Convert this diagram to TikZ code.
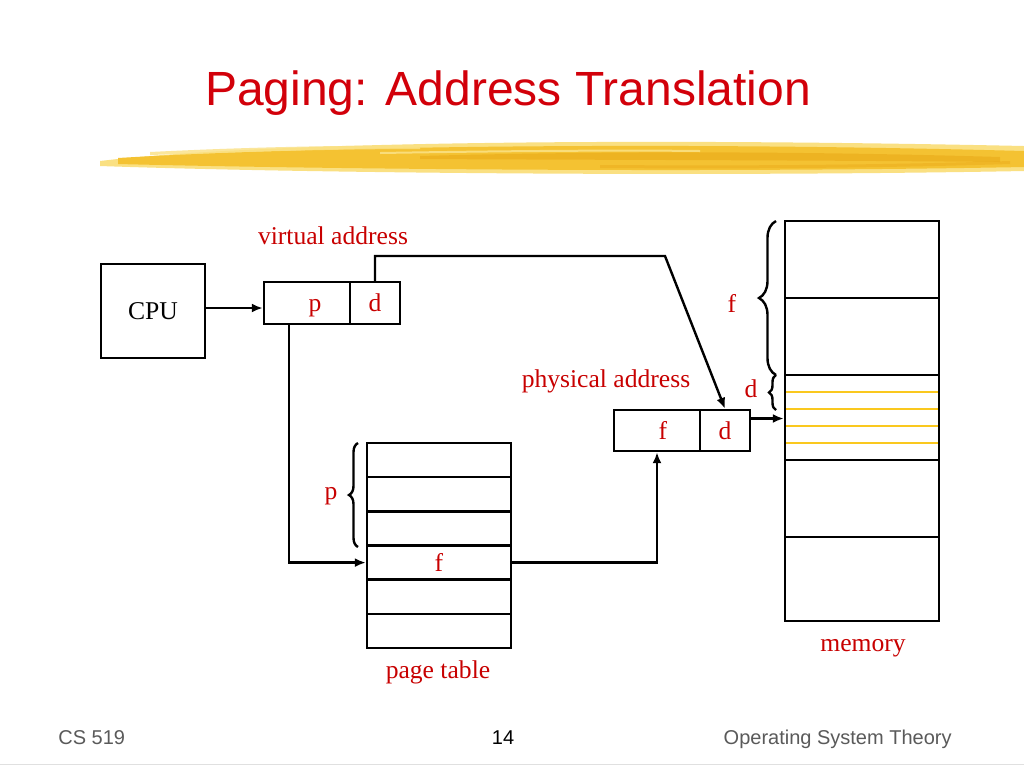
\documentclass[tikz,border=0pt]{standalone}
\usepackage{fontspec}
\setmainfont{Liberation Serif}
\setsansfont{Liberation Sans}
\usetikzlibrary{decorations.pathreplacing,arrows.meta}
\definecolor{labelred}{RGB}{200,0,0}
\definecolor{titlered}{RGB}{210,0,10}
\definecolor{brushgold}{RGB}{244,194,50}
\definecolor{brushlight}{RGB}{250,224,130}
\definecolor{brushdark}{RGB}{232,165,20}
\definecolor{memyellow}{RGB}{250,200,30}
\definecolor{footgray}{RGB}{90,90,90}

\begin{document}
\begin{tikzpicture}[x=0.5pt,y=-0.5pt,
  box/.style={draw,line width=1.2pt,inner sep=0pt,text height=8.7pt,text depth=0pt,
    font=\fontsize{12.8}{15}\selectfont,text=labelred},
  lbl/.style={anchor=base,inner sep=0pt,text=labelred,font=\fontsize{12.8}{15}\selectfont},
  wire/.style={line width=1.2pt},
  arr/.style={wire,-{Latex[length=5.5pt,width=4.5pt]}},
  brc/.style={decorate,line width=1.2pt,decoration={brace,amplitude=#1}},
  foot/.style={anchor=base,inner sep=0pt,text=footgray,font=\sffamily\fontsize{10}{12}\selectfont},
]
\path[use as bounding box,fill=white] (0,0) rectangle (1024,768);

% title and brush stroke
\fill[brushlight] (100,161) .. controls (250,143) and (600,137) .. (1024,146) -- (1024,171) .. controls (700,177) and (300,173) .. (100,166) -- cycle;
\fill[brushgold] (118,158) .. controls (300,147) and (650,141) .. (1024,151) -- (1024,167) .. controls (700,173) and (320,169) .. (118,164) -- cycle;
\fill[brushdark,opacity=.5] (420,156) .. controls (600,151) and (800,151) .. (1000,157) -- (1000,162) .. controls (800,160) and (600,160) .. (420,159) -- cycle;
\fill[brushlight,opacity=.8] (150,152) .. controls (250,147) and (350,145) .. (420,146) -- (420,149) .. controls (330,149) and (240,152) .. (150,155) -- cycle;
\fill[brushdark,opacity=.4] (600,165) .. controls (750,166) and (880,165) .. (1010,161) -- (1010,164) .. controls (880,168) and (750,169) .. (600,168) -- cycle;
\fill[brushlight,opacity=.9] (380,152) .. controls (500,150) and (620,149) .. (700,150) -- (700,152) .. controls (620,151) and (500,152) .. (380,154) -- cycle;
\node[anchor=base,inner sep=0pt,text=titlered,font=\sffamily\fontsize{24}{28}\selectfont] (title) at (508,105) {Paging: Address Translation};

% cpu and virtual address
\node[box,text=black,minimum width=52pt,minimum height=47pt] (cpu) at (153,311) {CPU};
\node[box,minimum width=43pt,minimum height=21pt] (vp) at (307,303) {\hspace{8pt}p};
\node[box,minimum width=25pt,minimum height=21pt] (vd) at (375,303) {d};
\node[lbl] (vlabel) at (333,244) {virtual address};

% physical address
\node[box,minimum width=43pt,minimum height=20.5pt] (pf) at (657,430.5) {\hspace{6pt}f};
\node[box,minimum width=25pt,minimum height=20.5pt] (pd) at (725,430.5) {d};
\node[lbl] (plabel) at (606,387) {physical address};

% page table
\foreach \i/\t in {1/,2/,3/,4/f,5/,6/}
  \node[box,minimum width=72pt,minimum height=17.08pt] (pt\i) at (439,{443+34.17*(\i-0.5)}) {\t};
\node[lbl] (tlabel) at (438,678) {page table};
\draw[brc=4.5pt] (358,547) -- (358,443);
\node[lbl] (pbrace) at (331,499) {p};

% memory
\node[box,minimum width=77pt,minimum height=200pt] (memory) at (862,421) {};
\foreach \y in {298,375,460,537}
  \draw[wire] (785,\y) -- (939,\y);
\foreach \y in {392,409,426,443}
  \draw[line width=1pt,memyellow] (786,\y) -- (938,\y);
\node[lbl] (mlabel) at (863,651) {memory};
\draw[brc=8.5pt] (776,375) -- (776,221);
\node[lbl] (fbrace) at (732,312) {f};
\draw[brc=3.5pt] (776,410) -- (776,375);
\node[lbl] (dbrace) at (751,397) {d};

% connectors
\coordinate (bend) at (665,256);
\coordinate (cpuout) at ([yshift=1.5pt]cpu.east);
\coordinate (pdout) at ([yshift=6pt]pd.east);
\draw[arr] (cpuout) -- (cpuout -| vp.west);
\draw[arr] (vd.north) |- (bend) -- (pd.north);
\draw[arr] ([xshift=13pt]vp.south west) |- (pt4.west);
\draw[arr] (pt4.east) -| (pf.south);
\draw[arr] (pdout) -- (pdout -| memory.west);

% footer
\node[foot,anchor=base west] (course) at (58,744) {CS 519};
\node[foot,text=black] (page) at (503,744) {14};
\node[foot,anchor=base east] (theory) at (952,744) {Operating System Theory};
\draw[black!12] (0,764) -- (1024,764);

\end{tikzpicture}
\end{document}
